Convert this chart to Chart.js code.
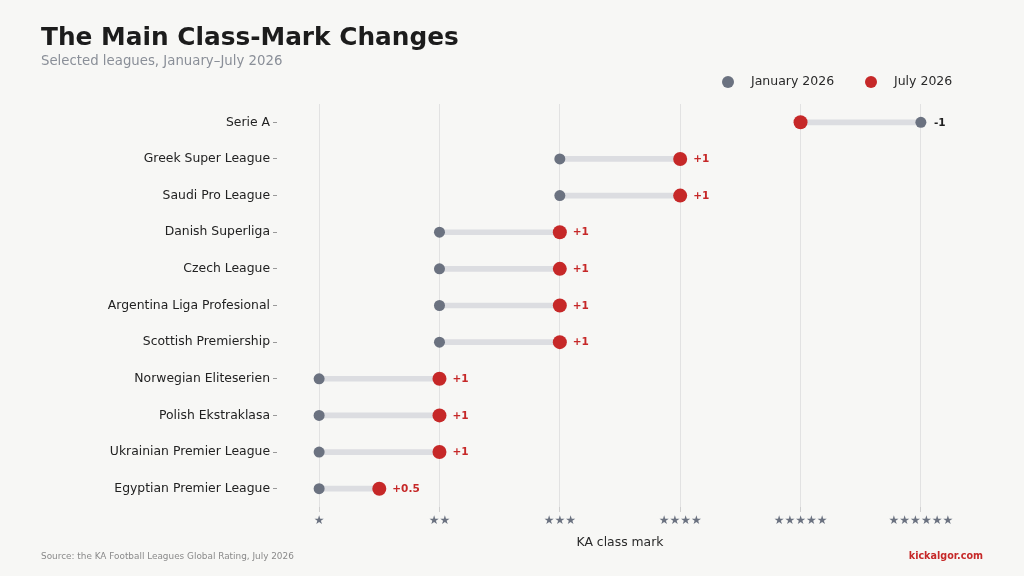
<!DOCTYPE html>
<html>
<head>
<meta charset="utf-8">
<script src="https://cdn.jsdelivr.net/npm/chart.js@4.4.1/dist/chart.umd.min.js"></script>
<style>
html,body{margin:0;padding:0;background:#f7f7f5;}
#wrap{width:1024px;height:576px;position:relative;}
</style>
</head>
<body>
<div id="wrap"><canvas id="c" width="1024" height="576"></canvas></div>
<script>
const leagues = ["Serie A","Greek Super League","Saudi Pro League","Danish Superliga","Czech League","Argentina Liga Profesional","Scottish Premiership","Norwegian Eliteserien","Polish Ekstraklasa","Ukrainian Premier League","Egyptian Premier League"];
const jan2026 = [6,3,3,2,2,2,2,1,1,1,1];
const jul2026 = [5,4,4,3,3,3,3,2,2,2,1.5];
const xTickValues = [1,2,3,4,5,6];
const xTickLabels = ["★","★★","★★★","★★★★","★★★★★","★★★★★★"];

const FONT = "'DejaVu Sans', sans-serif";
const GREY = "#6b7280";
const RED = "#c62828";

const deco = {
  id: 'deco',
  beforeDraw(chart) {
    const ctx = chart.ctx;
    ctx.save();
    ctx.fillStyle = '#f7f7f5';
    ctx.fillRect(0, 0, chart.width, chart.height);
    ctx.restore();
  },
  afterDatasetsDraw(chart) {
    const ctx = chart.ctx;
    const xs = chart.scales.x, ys = chart.scales.y;
    ctx.save();
    ctx.font = "bold 10.5px " + FONT;
    ctx.textBaseline = 'middle';
    ctx.textAlign = 'left';
    leagues.forEach((l, i) => {
      const d = jul2026[i] - jan2026[i];
      const x = xs.getPixelForValue(Math.max(jan2026[i], jul2026[i])) + 13;
      const y = ys.getPixelForValue(i);
      ctx.fillStyle = d >= 0 ? RED : '#1f1f1f';
      ctx.fillText((d > 0 ? '+' : '') + d, x, y + 0.5);
    });
    ctx.restore();
  },
  afterDraw(chart) {
    const ctx = chart.ctx;
    ctx.save();
    ctx.textBaseline = 'alphabetic';
    ctx.textAlign = 'left';
    ctx.fillStyle = '#1c1c1c';
    ctx.font = "bold 24.8px " + FONT;
    ctx.fillText("The Main Class-Mark Changes", 41, 45);
    ctx.fillStyle = '#8a8f98';
    ctx.font = "13.3px " + FONT;
    ctx.fillText("Selected leagues, January–July 2026", 41, 65);
    // legend
    const items = chart.data.datasets.filter(d => d.type === 'line');
    const lx = [728, 871];
    items.forEach((ds, k) => {
      ctx.beginPath();
      ctx.fillStyle = ds.backgroundColor;
      ctx.arc(lx[k], 82, 6, 0, Math.PI * 2);
      ctx.fill();
      ctx.fillStyle = '#2a2a2a';
      ctx.font = "12.5px " + FONT;
      ctx.textBaseline = 'middle';
      ctx.fillText(ds.label, lx[k] + 23, 82);
    });
    // footer
    ctx.textBaseline = 'alphabetic';
    ctx.fillStyle = '#8a8a8a';
    ctx.font = "8.9px " + FONT;
    ctx.fillText("Source: the KA Football Leagues Global Rating, July 2026", 41, 559);
    ctx.textAlign = 'right';
    ctx.fillStyle = RED;
    ctx.font = "bold 9.6px " + FONT;
    ctx.fillText("kickalgor.com", 983, 559);
    ctx.restore();
  }
};

new Chart(document.getElementById('c'), {
  type: 'bar',
  data: {
    labels: leagues,
    datasets: [
      {
        type: 'bar',
        label: 'change',
        data: jan2026.map((j, i) => [j, jul2026[i]]),
        backgroundColor: '#dcdde1',
        barThickness: 5,
        borderSkipped: false,
        order: 3
      },
      {
        type: 'line',
        label: 'January 2026',
        data: jan2026,
        showLine: false,
        backgroundColor: GREY,
        borderColor: GREY,
        pointRadius: 5.5,
        pointBorderWidth: 0,
        order: 2
      },
      {
        type: 'line',
        label: 'July 2026',
        data: jul2026,
        showLine: false,
        backgroundColor: RED,
        borderColor: RED,
        pointRadius: 7,
        pointBorderWidth: 0,
        order: 1
      }
    ]
  },
  options: {
    indexAxis: 'y',
    responsive: false,
    animation: false,
    devicePixelRatio: 1,
    layout: { padding: { left: 0, right: 61, top: 104, bottom: 19 } },
    plugins: { legend: { display: false }, tooltip: { enabled: false }, title: { display: false } },
    scales: {
      x: {
        type: 'linear',
        min: 0.65,
        max: 6.35,
        afterBuildTicks(scale) { scale.ticks = xTickValues.map(v => ({ value: v })); },
        afterFit(scale) { scale.height = 50; },
        grid: { color: '#e2e2e2', lineWidth: 1, tickLength: 5, tickColor: '#cfcfcf', drawTicks: true },
        border: { display: false },
        ticks: {
          color: GREY,
          padding: 2,
          font: { family: FONT, size: 12 },
          callback: (v) => { const k = xTickValues.indexOf(v); return k >= 0 ? xTickLabels[k] : ''; }
        },
        title: { display: true, text: 'KA class mark', color: '#2a2a2a', font: { family: FONT, size: 12.4 }, padding: { top: 0, bottom: 7 } }
      },
      y: {
        type: 'category',
        offset: true,
        afterFit(scale) { scale.width = 277; },
        grid: { drawOnChartArea: false, drawTicks: true, tickLength: 4, tickColor: '#999', offset: false },
        border: { display: false },
        ticks: { color: '#222', padding: 3, font: { family: FONT, size: 12.4 } }
      }
    }
  },
  plugins: [deco]
});
</script>
</body>
</html>
